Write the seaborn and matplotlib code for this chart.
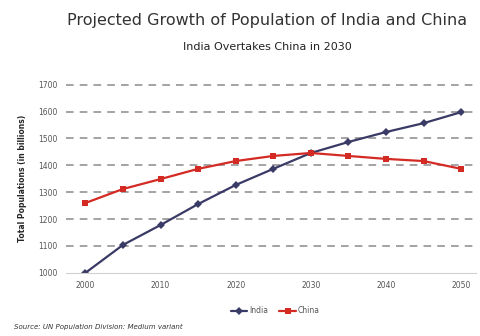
import pandas as pd
import matplotlib.pyplot as plt
import seaborn as sns

# values (millions)
years = [2000, 2005, 2010, 2015, 2020, 2025, 2030, 2035, 2040, 2045, 2050]
india = [1000, 1104, 1178, 1256, 1327, 1387, 1446, 1487, 1524, 1557, 1598]
china = [1260, 1312, 1349, 1387, 1416, 1435, 1446, 1435, 1424, 1416, 1387]
yticks = [1000, 1100, 1200, 1300, 1400, 1500, 1600, 1700]
xticks = [2000, 2010, 2020, 2030, 2040, 2050]

df = pd.DataFrame({'Year': years, 'India': india, 'China': china})
long_df = df.melt(id_vars='Year', var_name='Country', value_name='Population')

sns.set_style('white')
plt.rcParams['font.family'] = ['DejaVu Sans']

fig = plt.figure(figsize=(4.81, 3.36), dpi=100)
ax = fig.add_axes([0.137, 0.188, 0.853, 0.563])

palette = {'India': '#3a3a66', 'China': '#d42a24'}
sns.lineplot(data=long_df, x='Year', y='Population', hue='Country', style='Country',
             markers={'India': 'D', 'China': 's'}, dashes=False, palette=palette,
             linewidth=1.6, markersize=4.5, markeredgewidth=0, ax=ax)

ax.set_xlim(1997.4, 2052)
ax.set_ylim(1000, 1704)
ax.set_xticks(xticks)
ax.set_yticks(yticks)
ax.tick_params(axis='both', labelsize=5.5, colors='#555555', length=0, pad=6)
ax.grid(axis='y', linestyle=(0, (5, 4)), color='#8a8a8a', linewidth=1.1)
ax.yaxis.get_gridlines()[0].set_visible(False)  # the 1000 line is the axis itself
for s in ['top', 'right', 'left']:
    ax.spines[s].set_visible(False)
ax.spines['bottom'].set_color('#d0d0d0')
ax.set_axisbelow(True)

ax.set_xlabel('')
ax.set_ylabel('Total Populations (in billions)', fontsize=5.5, fontweight='bold', labelpad=8)

fig.text(0.555, 0.94, 'Projected Growth of Population of India and China',
         ha='center', va='center', fontsize=11.5, color='#333333')
fig.text(0.555, 0.86, 'India Overtakes China in 2030', ha='center', va='center',
         fontsize=8, color='#222222')

ax.legend(loc='upper center', bbox_to_anchor=(0.51, -0.14), ncol=2, frameon=False,
          fontsize=5.5, handlelength=2.2, columnspacing=1.5, handletextpad=0.2,
          labelcolor='#555555')

fig.text(0.03, 0.022, 'Source: UN Population Division: Medium variant',
         fontsize=5, style='italic', color='#333333')

fig.savefig('out.png', dpi=100)
